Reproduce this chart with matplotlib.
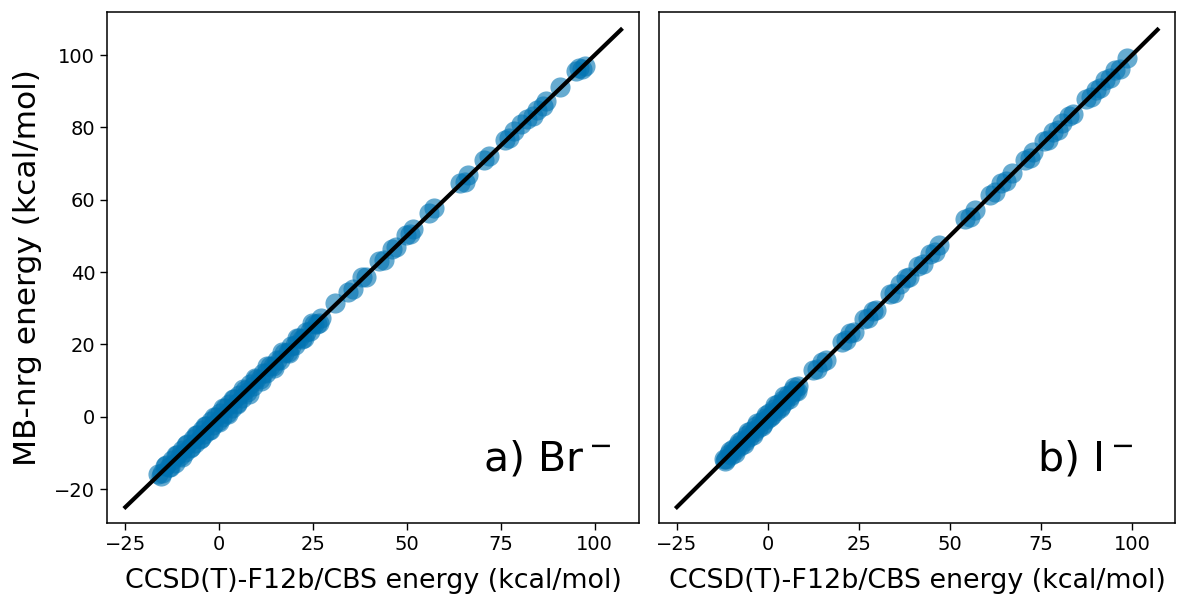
import numpy as np
import matplotlib.pyplot as plt

# reference (CCSD(T)-F12b/CBS) vs MB-nrg energies, kcal/mol
br_ref = [-16.3, -15.2, -14.1, -13.4, -12.6, -11.9, -11.2, -10.5, -9.8, -9.1,
          -8.5, -7.8, -7.1, -6.5, -5.9, -5.2, -4.6, -4.0, -3.4, -2.8,
          -2.2, -1.6, -1.0, -0.4, 0.2, 0.8, 1.4, 2.0, 2.7, 3.3,
          4.0, 4.6, 5.3, 6.0, 6.8, 7.5, 8.3, 9.1, 9.9, 10.8,
          11.6, 12.5, 13.4, 14.4, 15.3, 16.2, 17.3, 18.2, 19.1, 20.2,
          21.3, 22.1, 23.0, 24.1, 25.2, 26.0, 27.1, 30.9, 34.2, 35.6,
          38.1, 39.0, 42.6, 43.8, 45.9, 47.2, 49.8, 50.9, 51.6, 55.8,
          57.3, 64.2, 65.4, 66.3, 70.6, 71.8, 76.1, 77.3, 78.5, 80.4,
          81.9, 83.6, 84.5, 86.2, 87.0, 90.8, 94.9, 95.8, 96.6, 97.3,
          -15.6, -14.5, -13.0, -11.5, -10.0, -8.8, -7.4, -6.1, -4.9, -3.7,
          -2.5, -1.3, -0.1, 1.1, 2.3, 3.6, 4.8, 6.3, 7.8, 9.4,
          11.0, 12.8, 14.6, 16.6, 18.6, 20.6, 22.6, 24.6, 26.6]
br_mbnrg = [-15.8, -15.6, -13.3, -14.0, -12.1, -12.7, -10.5, -11.0, -9.1, -9.9,
            -7.6, -8.6, -6.3, -7.2, -5.0, -6.1, -3.7, -4.9, -2.6, -3.6,
            -1.3, -2.4, -0.1, -1.3, 1.1, -0.1, 2.3, 1.1, 3.6, 2.4,
            4.9, 3.8, 6.0, 5.2, 7.4, 6.8, 8.9, 8.6, 10.4, 10.3,
            12.1, 12.0, 13.9, 13.9, 15.8, 15.7, 17.7, 17.8, 19.5, 19.8,
            21.7, 21.6, 23.4, 23.7, 25.6, 25.6, 27.4, 31.3, 34.6, 35.2,
            38.5, 38.6, 43.0, 43.4, 46.3, 46.8, 50.2, 50.5, 52.0, 56.2,
            57.7, 64.6, 65.0, 66.7, 70.9, 72.2, 76.5, 77.0, 78.9, 80.8,
            82.3, 83.2, 84.9, 85.8, 87.4, 91.2, 95.5, 96.4, 96.2, 97.0,
            -16.4, -13.6, -13.9, -10.7, -11.2, -7.9, -8.5, -5.1, -6.0, -2.5,
            -3.7, 0.0, -1.5, 2.4, 0.8, 5.0, 3.4, 7.6, 6.2, 10.6,
            9.8, 14.0, 13.5, 17.8, 17.7, 21.8, 21.7, 25.8, 25.9]

i_ref = [-12.1, -11.4, -10.8, -10.1, -9.5, -8.9, -8.2, -7.6, -7.0, -6.3,
         -5.7, -5.1, -4.5, -3.8, -3.2, -2.6, -2.0, -1.4, -0.8, -0.2,
         0.4, 1.0, 1.6, 2.2, 2.9, 3.5, 4.1, 4.8, 5.4, 6.1,
         6.8, 7.5, 8.2, 12.4, 13.6, 14.8, 15.9, 20.3, 21.4, 22.6,
         23.7, 26.5, 27.6, 28.9, 29.8, 33.4, 34.6, 36.2, 37.9, 38.8,
         41.3, 42.5, 44.6, 45.8, 47.1, 54.2, 55.4, 56.8, 61.0, 62.3,
         64.1, 65.5, 67.0, 70.6, 71.9, 72.8, 75.7, 76.9, 78.4, 79.6,
         80.9, 82.8, 83.9, 87.4, 88.6, 90.0, 91.3, 92.6, 94.0, 95.4,
         96.6, 98.7,
         -11.7, -10.4, -9.1, -7.9, -6.6, -5.4, -4.1, -2.9, -1.7, -0.5,
         0.7, 1.9, 3.2, 4.4, 5.7, 7.1, 7.9]
i_mbnrg = [-11.6, -11.8, -10.3, -10.6, -9.0, -9.3, -7.7, -8.1, -6.5, -6.8,
           -5.2, -5.6, -4.0, -4.3, -2.7, -3.1, -1.5, -1.9, -0.3, -0.7,
           0.9, 0.5, 2.1, 1.7, 3.4, 3.0, 4.6, 4.3, 5.9, 5.6,
           7.3, 7.0, 8.6, 12.8, 13.2, 15.2, 15.6, 20.7, 21.1, 23.0,
           23.4, 26.9, 27.3, 29.3, 29.5, 33.8, 34.3, 36.6, 38.3, 38.5,
           41.7, 42.2, 45.0, 45.5, 47.4, 54.6, 55.1, 57.2, 61.4, 62.0,
           64.5, 65.2, 67.4, 71.0, 71.6, 73.2, 76.1, 76.6, 78.8, 79.3,
           81.3, 83.2, 83.6, 87.8, 88.3, 90.4, 91.0, 93.0, 93.7, 95.8,
           96.2, 99.1,
           -12.3, -9.4, -10.1, -6.9, -7.5, -4.3, -5.0, -1.8, -2.6, 0.6,
           -0.2, 3.1, 2.3, 5.6, 4.9, 8.3, 7.2]

line_ends = [-25, 107]
labels = [r"a) Br$^-$", r"b) I$^-$"]
label_x = [0.706, 0.732]

fig = plt.figure(figsize=(11.8, 5.94), dpi=100)
W, H = 1180., 594.
ax1 = fig.add_axes([107/W, 1-523/H, 532/W, 511/H])
ax2 = fig.add_axes([659/W, 1-523/H, 516/W, 511/H], sharey=ax1)
axes = [ax1, ax2]

for ax, xs, ys, lab, lx in zip(axes, [br_ref, i_ref], [br_mbnrg, i_mbnrg], labels, label_x):
    ax.scatter(xs, ys, s=210, color='#0173b2', alpha=0.6, linewidths=0)
    ax.plot(line_ends, line_ends, color='k', lw=3)
    ax.text(lx, -14.8, lab, fontsize=29.5, transform=ax.get_yaxis_transform())
    ax.set_xlabel("CCSD(T)-F12b/CBS energy (kcal/mol)", fontsize=19.4, labelpad=10)
    ax.set_xticks([-25, 0, 25, 50, 75, 100])
    ax.set_xlim(-29.9, 111.8)
    ax.tick_params(labelsize=14, length=5, width=1)
    for sp in ax.spines.values():
        sp.set_linewidth(1.1)

ax1.set_ylim(-29.4, 111.9)
ax1.set_ylabel("MB-nrg energy (kcal/mol)", fontsize=22.5, labelpad=9)
ax1.set_yticks([-20, 0, 20, 40, 60, 80, 100])
ax2.tick_params(axis='y', left=False, labelleft=False)

fig.savefig("out.png")
